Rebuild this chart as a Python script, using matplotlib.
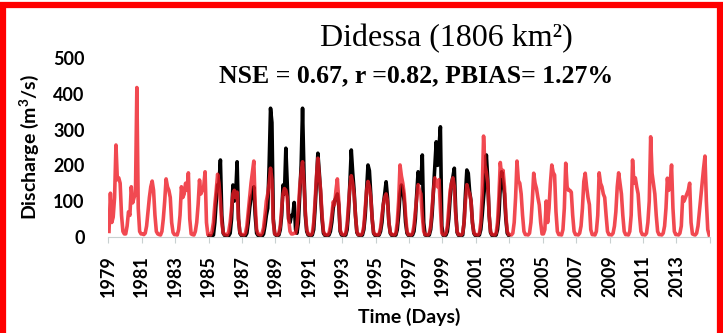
import matplotlib
matplotlib.use("Agg")
import matplotlib.pyplot as plt
import numpy as np
from matplotlib.patches import Rectangle

# monthly discharge (m3/s), one row per year, Jan..Dec
sim_start = 1979
sim_monthly = [
    [15, 122, 40, 55, 110, 257, 160, 165, 150, 60, 15, 8],     # 1979
    [8, 30, 70, 60, 140, 95, 110, 120, 418, 80, 15, 8],        # 1980
    [8, 6, 10, 30, 70, 110, 140, 156, 130, 60, 15, 8],         # 1981
    [6, 5, 15, 50, 100, 162, 140, 130, 110, 40, 12, 6],        # 1982
    [6, 5, 20, 60, 140, 110, 120, 150, 130, 179, 50, 8],       # 1983
    [6, 5, 15, 40, 90, 159, 120, 130, 140, 182, 40, 6],        # 1984
    [6, 5, 15, 40, 90, 130, 175, 150, 100, 40, 12, 6],         # 1985
    [6, 5, 15, 40, 80, 120, 130, 110, 125, 50, 12, 6],         # 1986
    [6, 5, 10, 30, 70, 110, 150, 180, 212, 90, 20, 8],         # 1987
    [6, 5, 10, 25, 60, 100, 120, 150, 192, 160, 40, 8],        # 1988
    [6, 5, 10, 30, 80, 120, 135, 130, 110, 50, 15, 8],         # 1989
    [8, 10, 10, 30, 80, 140, 180, 210, 150, 70, 20, 8],        # 1990
    [6, 5, 10, 40, 100, 170, 220, 170, 130, 60, 15, 6],        # 1991
    [6, 5, 10, 30, 60, 98, 90, 130, 162, 100, 20, 8],          # 1992
    [6, 5, 10, 35, 90, 140, 171, 150, 120, 60, 15, 6],         # 1993
    [6, 5, 10, 30, 80, 130, 155, 140, 110, 50, 12, 6],         # 1994
    [6, 5, 8, 25, 60, 90, 110, 120, 100, 40, 12, 6],           # 1995
    [6, 5, 10, 40, 100, 201, 170, 150, 120, 60, 15, 6],        # 1996
    [6, 5, 10, 30, 70, 110, 146, 130, 120, 60, 15, 6],         # 1997
    [6, 5, 10, 30, 80, 130, 165, 150, 140, 160, 80, 10],       # 1998
    [6, 5, 10, 30, 80, 130, 150, 165, 140, 60, 15, 6],         # 1999
    [6, 5, 10, 40, 100, 146, 130, 120, 100, 40, 12, 6],        # 2000
    [6, 5, 10, 40, 120, 282, 200, 180, 150, 60, 15, 6],        # 2001
    [6, 5, 10, 40, 110, 208, 170, 186, 140, 60, 15, 6],        # 2002
    [6, 5, 10, 40, 110, 212, 157, 150, 120, 60, 15, 6],        # 2003
    [6, 5, 10, 40, 100, 178, 150, 135, 110, 89, 40, 8],        # 2004
    [8, 20, 100, 40, 80, 150, 201, 180, 173, 70, 15, 6],       # 2005
    [6, 5, 20, 80, 206, 140, 130, 130, 125, 60, 15, 6],        # 2006
    [6, 5, 10, 30, 80, 155, 178, 140, 110, 90, 20, 6],         # 2007
    [6, 5, 15, 60, 179, 150, 140, 120, 110, 60, 15, 6],        # 2008
    [6, 5, 10, 30, 70, 140, 179, 150, 120, 60, 15, 6],         # 2009
    [6, 5, 15, 60, 215, 150, 165, 140, 120, 60, 15, 6],        # 2010
    [6, 5, 10, 40, 100, 280, 178, 150, 120, 60, 15, 6],        # 2011
    [6, 5, 10, 30, 80, 164, 130, 150, 201, 80, 15, 6],         # 2012
    [6, 5, 10, 30, 112, 100, 110, 120, 130, 150, 40, 8],       # 2013
    [6, 5, 10, 30, 70, 110, 150, 192, 226, 100, 20, 5],        # 2014
]

obs_start = 1985
obs_monthly = [
    [3, 2, 2, 5, 40, 100, 145, 150, 215, 60, 10, 4],           # 1985
    [3, 2, 3, 10, 50, 145, 100, 120, 210, 50, 10, 4],          # 1986
    [3, 2, 3, 10, 40, 80, 110, 120, 140, 60, 10, 4],           # 1987
    [3, 2, 2, 8, 30, 60, 80, 200, 360, 320, 50, 8],            # 1988
    [4, 3, 5, 20, 60, 145, 120, 248, 150, 50, 40, 60],         # 1989
    [60, 96, 20, 10, 40, 120, 200, 360, 180, 60, 15, 5],       # 1990
    [4, 3, 5, 20, 80, 160, 234, 180, 120, 50, 10, 4],          # 1991
    [4, 3, 5, 15, 40, 80, 100, 110, 120, 90, 15, 5],           # 1992
    [4, 3, 5, 20, 70, 150, 243, 180, 130, 60, 12, 5],          # 1993
    [4, 3, 5, 20, 60, 130, 201, 185, 120, 50, 10, 4],          # 1994
    [4, 3, 5, 15, 40, 90, 120, 154, 110, 40, 10, 4],           # 1995
    [4, 3, 5, 20, 60, 120, 145, 130, 100, 40, 10, 4],          # 1996
    [4, 3, 5, 15, 50, 120, 182, 160, 150, 229, 40, 5],         # 1997
    [4, 3, 5, 20, 60, 130, 200, 266, 200, 250, 308, 30],       # 1998
    [4, 3, 5, 15, 50, 110, 150, 168, 192, 70, 12, 4],          # 1999
    [4, 3, 5, 40, 120, 187, 178, 126, 100, 40, 10, 4],         # 2000
    [4, 3, 5, 20, 60, 110, 150, 229, 160, 60, 12, 4],          # 2001
    [4, 3, 5, 20, 60, 140, 182, 150, 120, 50, 10, 4],          # 2002
]

year_ticks = list(range(1979, 2016, 2))
year_labels = [str(y) for y in range(1979, 2014, 2)] + [""]


def monthly_series(start, rows):
    vals = np.array(rows, dtype=float).ravel()
    t = start + (np.arange(vals.size) + 0.5) / 12.0
    return t, vals


def main():
    plt.rcParams.update({"mathtext.fontset": "custom",
                         "mathtext.rm": "Lato:bold",
                         "mathtext.it": "Lato:bold",
                         "mathtext.bf": "Lato:bold"})
    t_sim, q_sim = monthly_series(sim_start, sim_monthly)
    t_obs, q_obs = monthly_series(obs_start, obs_monthly)

    fig = plt.figure(figsize=(7.23, 3.33), dpi=100)
    ax = fig.add_axes([0.1498, 0.289, 0.832, 0.536])

    ax.plot(t_obs, q_obs, color="black", lw=2.6)
    ax.plot(t_sim, q_sim, color="#ee1c25", lw=2.6, alpha=0.8)

    ax.set_xlim(1979, 2015)
    ax.set_ylim(0, 500)
    ax.set_yticks([0, 100, 200, 300, 400, 500])
    ax.set_xticks(year_ticks)
    ax.set_xticklabels(year_labels, rotation=90)

    tfont = dict(family="Lato", weight="bold", size=14)
    for lab in ax.get_xticklabels() + ax.get_yticklabels():
        lab.set_fontfamily("Lato")
        lab.set_fontweight("bold")
        lab.set_fontsize(13)
    ax.tick_params(axis="y", length=0, pad=17)
    ax.tick_params(axis="x", length=4, color="#c8d0d0", pad=9)

    for s in ["top", "right", "left"]:
        ax.spines[s].set_visible(False)
    ax.spines["bottom"].set_color("#c8d0d0")

    ax.set_ylabel("Discharge (m$^{3}$/s)", labelpad=9, **tfont)
    ax.set_xlabel("Time (Days)", labelpad=8, **tfont)

    fig.text(0.618, 0.885, "Didessa (1806 km²)", ha="center", va="center",
             family="Liberation Serif", size=23)
    fig.text(0.576, 0.772, "NSE = 0.67, r =0.82, PBIAS= 1.27%", ha="center",
             va="center", family="Liberation Serif", weight="bold", size=18.5)

    # red frame round the figure
    fig.patches.append(Rectangle((0.004, -0.05), 0.992, 1.035, transform=fig.transFigure,
                                 fill=False, edgecolor="red", lw=4.5))

    fig.savefig("out.png", dpi=100)


if __name__ == "__main__":
    main()
